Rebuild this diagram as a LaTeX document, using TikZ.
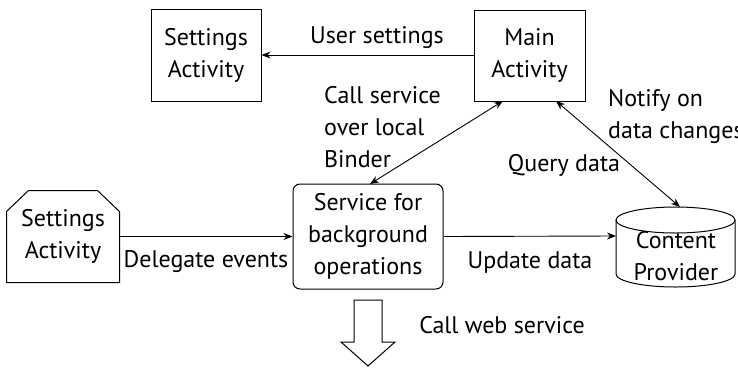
\documentclass[tikz,border=0pt]{standalone}
\usepackage{fontspec}
\setmainfont{PT Sans}
\usetikzlibrary{arrows.meta,calc}
\begin{document}
\begin{tikzpicture}[x=1pt,y=-1pt,
  every node/.style={font=\fontsize{24}{32}\selectfont},
  box/.style={draw, line width=1pt, align=center, inner sep=0pt},
  lbl/.style={align=left, inner sep=0pt},
  conn/.style={line width=0.9pt, -{Stealth[length=9pt,width=7pt]}},
  biconn/.style={line width=0.9pt, {Stealth[length=9pt,width=7pt]}-{Stealth[length=9pt,width=7pt]}}
]
\useasboundingbox (0,0) rectangle (738,367);
% nodes
\node[box, minimum width=110pt, minimum height=92pt] (set1) at (206,55) {Settings\\Activity};
\node[box, minimum width=111pt, minimum height=91pt] (main) at (529.5,55.5) {Main\\Activity};
\node[box, draw=none, minimum width=112pt, minimum height=91pt] (set2) at (63,236.5) {Settings\\Activity};
\draw[line width=1pt] (set2.south west) -- ($(set2.north west)+(0,21)$) -- ($(set2.north west)+(22,0)$)
  -- ($(set2.north east)+(-22,0)$) -- ($(set2.north east)+(0,21)$) -- (set2.south east) -- cycle;
\node[box, rounded corners=7pt, minimum width=150pt, minimum height=105pt] (serv) at (368,236.5) {Service for\\background\\operations};
% cylinder
\node[box, draw=none, minimum width=119pt, minimum height=80pt] (cp) at (675.5,247) {};
\node[align=center, inner sep=0pt] (cptext) at (676,256) {Content\\Provider};
\draw[line width=1pt] (675.5,220) ellipse [x radius=59.5, y radius=13];
\draw[line width=1pt] (616,220) -- (616,274) arc[start angle=180, end angle=360, x radius=59.5, y radius=-13] -- (735,220);
\coordinate (cptop) at (680,207);
\coordinate (cpleft) at (616,236);
% connectors
\draw[conn] (main.west |- 0,55) -- (set1.east |- 0,55);
\draw[conn] (set2.east) -- (serv.west);
\draw[conn] (serv.east) -- (cpleft);
\coordinate (m1) at (503,101);
\coordinate (m2) at (556,101);
\coordinate (s1) at (370,184);
\draw[biconn] (m1) -- (s1);
\draw[biconn] (m2) -- (cptop);
% hollow arrow
\draw[line width=1pt] (354,300) -- (382,300) -- (382,342) -- (395,342) -- (368,366) -- (341,342) -- (354,342) -- cycle;
% labels
\node[lbl] (l1) at (377,38) {User settings};
\node[lbl, anchor=west] (l2) at (324,127) {Call service\\over local\\Binder};
\node[lbl, anchor=west] (l3) at (608,117) {Notify on\\data changes};
\node[lbl] (l4) at (564,165) {Query data};
\node[lbl] (l5) at (206,262) {Delegate events};
\node[lbl] (l6) at (530,262) {Update data};
\node[lbl] (l7) at (502,325) {Call web service};
\end{tikzpicture}
\end{document}
